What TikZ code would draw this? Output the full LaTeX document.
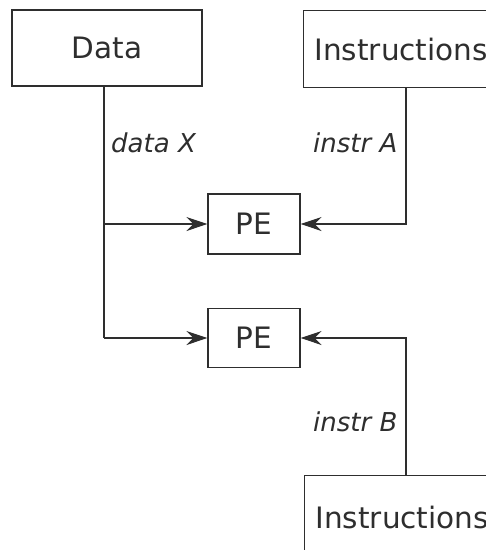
\documentclass[tikz,border=0pt]{standalone}
\usepackage{fontspec}
\setmainfont{DejaVu Sans}
\usetikzlibrary{arrows.meta}
\definecolor{ink}{HTML}{2e2e2e}
\begin{document}
\begin{tikzpicture}[x=1pt,y=-1pt,
  box/.style={draw=ink, line width=1.1pt, text=ink, inner sep=0pt, font=\fontsize{29.5}{34}\selectfont},
  lbl/.style={inner sep=0pt, anchor=base west, text=ink, font=\fontsize{26}{30}\selectfont\itshape},
  conn/.style={draw=ink, line width=1.1pt},
  arr/.style={conn, -{Stealth[length=21pt,width=14pt,inset=7pt]}}]
\useasboundingbox (0,0) rectangle (486,550);
\clip (0,0) rectangle (486,550);
\node[box, minimum width=190pt, minimum height=76pt] (data) at (107,48) {Data};
\node[box, anchor=north west, minimum height=77pt, inner xsep=11pt] (instr1) at (303,10) {Instructions};
\node[box, anchor=north west, minimum height=84pt, inner xsep=11pt] (instr2) at (304,475) {Instructions};
\node[box, minimum width=92pt, minimum height=60pt] (pe1) at (254,224) {PE};
\node[box, minimum width=92pt, minimum height=59pt] (pe2) at (254,338) {PE};
\coordinate (j1) at (104,224);
\coordinate (j2) at (104,338);
\coordinate (ka) at (406,224);
\coordinate (kb) at (406,338);
\draw[conn] (data.south -| j1) -- (j2);
\draw[arr] (j1) -- (pe1.west);
\draw[arr] (j2) -- (pe2.west);
\draw[arr] (instr1.south -| ka) -- (ka) -- (pe1.east);
\draw[arr] (instr2.north -| kb) -- (kb) -- (pe2.east);
\node[lbl] (lx) at (111,152) {data X};
\node[lbl] (la) at (313,152) {instr A};
\node[lbl] (lb) at (313,431) {instr B};
\end{tikzpicture}
\end{document}
